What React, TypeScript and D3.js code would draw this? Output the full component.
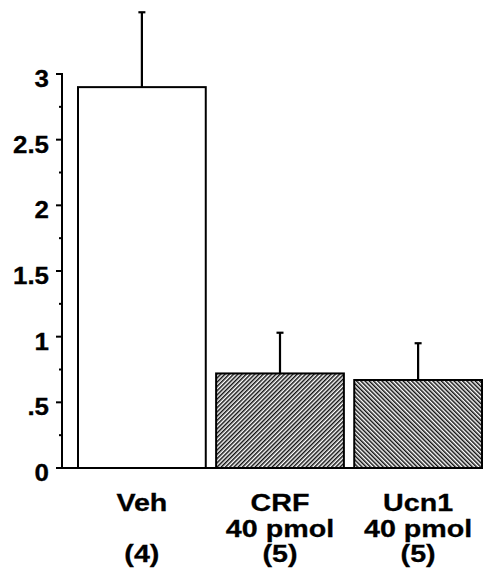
import React from "react";
import * as d3 from "d3";

const categories = ["Veh", "CRF", "Ucn1"];
const labelLine2 = ["", "40 pmol", "40 pmol"];
const labelLine3 = ["(4)", "(5)", "(5)"];
const means = [2.9, 0.72, 0.67];
const sems = [0.57, 0.31, 0.28];
const fills = ["white", "url(#hatchA)", "url(#hatchB)"];
const yTicks = [0, 0.5, 1, 1.5, 2, 2.5, 3];
const yTickLabels = ["0", ".5", "1", "1.5", "2", "2.5", "3"];
const yMinorTicks = [0.25, 0.75, 1.25, 1.75, 2.25, 2.75];

const W = 483;
const H = 579;
const FONT = "'Liberation Sans', Arial, sans-serif";

export default function App() {
  const y = d3.scaleLinear().domain([0, 3]).range([468, 74]);
  const x = d3
    .scaleBand<string>()
    .domain(categories)
    .range([78, 482])
    .paddingInner(0.075)
    .paddingOuter(0);
  const axisX = 62;

  const text = (
    tx: number,
    ty: number,
    s: string,
    anchor: string,
    key: string,
    size: number,
    sx: number
  ) => (
    <text
      key={key}
      transform={`translate(${tx},${ty}) scale(${sx},1)`}
      textAnchor={anchor}
      fontFamily={FONT}
      fontWeight="bold"
      fontSize={size}
      fill="black"
      stroke="black"
      strokeWidth={0.3}
    >
      {s}
    </text>
  );

  return (
    <svg
      width={W}
      height={H}
      style={{ position: "fixed", left: 0, top: 0, background: "white" }}
    >
      <defs>
        <pattern id="hatchA" width={3} height={3} patternUnits="userSpaceOnUse" patternTransform="rotate(45)">
          <rect width={3} height={3} fill="white" />
          <line x1={0.75} y1={0} x2={0.75} y2={3} stroke="#111" strokeWidth={1.5} />
        </pattern>
        <pattern id="hatchB" width={3} height={3} patternUnits="userSpaceOnUse" patternTransform="rotate(-45)">
          <rect width={3} height={3} fill="white" />
          <line x1={0.75} y1={0} x2={0.75} y2={3} stroke="#111" strokeWidth={1.5} />
        </pattern>
      </defs>

      {/* error bars */}
      {categories.map((c, i) => {
        const cx = (x(c) as number) + x.bandwidth() / 2;
        const top = y(means[i] + sems[i]);
        return (
          <g key={"e" + c}>
            <line x1={cx} x2={cx} y1={y(means[i])} y2={top} stroke="black" strokeWidth={2.2} />
            <line x1={cx - 3.5} x2={cx + 3.5} y1={top} y2={top} stroke="black" strokeWidth={2.2} />
          </g>
        );
      })}

      {/* bars */}
      {categories.map((c, i) => (
        <rect
          key={"b" + c}
          x={x(c) as number}
          y={y(means[i])}
          width={x.bandwidth()}
          height={y(0) - y(means[i])}
          fill={fills[i]}
          stroke="black"
          strokeWidth={2}
        />
      ))}

      {/* y axis */}
      <line x1={axisX} x2={axisX} y1={y(3) - 1} y2={y(0)} stroke="black" strokeWidth={2} />
      <line x1={56} x2={482} y1={y(0)} y2={y(0)} stroke="black" strokeWidth={2} />
      {yTicks.map((t) => (
        <line key={"t" + t} x1={56} x2={axisX} y1={y(t)} y2={y(t)} stroke="black" strokeWidth={2} />
      ))}
      {yMinorTicks.map((t) => (
        <line key={"m" + t} x1={59} x2={axisX} y1={y(t)} y2={y(t)} stroke="black" strokeWidth={2} />
      ))}
      {yTicks.map((t, i) => text(49, y(t) + 13, yTickLabels[i], "end", "yl" + t, 24, 1.08))}

      {/* x labels */}
      {categories.map((c, i) => {
        const cx = (x(c) as number) + x.bandwidth() / 2;
        return (
          <g key={"xl" + c}>
            {text(cx, 511, c, "middle", "l1" + c, 24.5, 1.17)}
            {labelLine2[i] ? text(cx, 537, labelLine2[i], "middle", "l2" + c, 24.5, 1.17) : null}
            {text(cx, 562, labelLine3[i], "middle", "l3" + c, 24.5, 1.17)}
          </g>
        );
      })}
    </svg>
  );
}
